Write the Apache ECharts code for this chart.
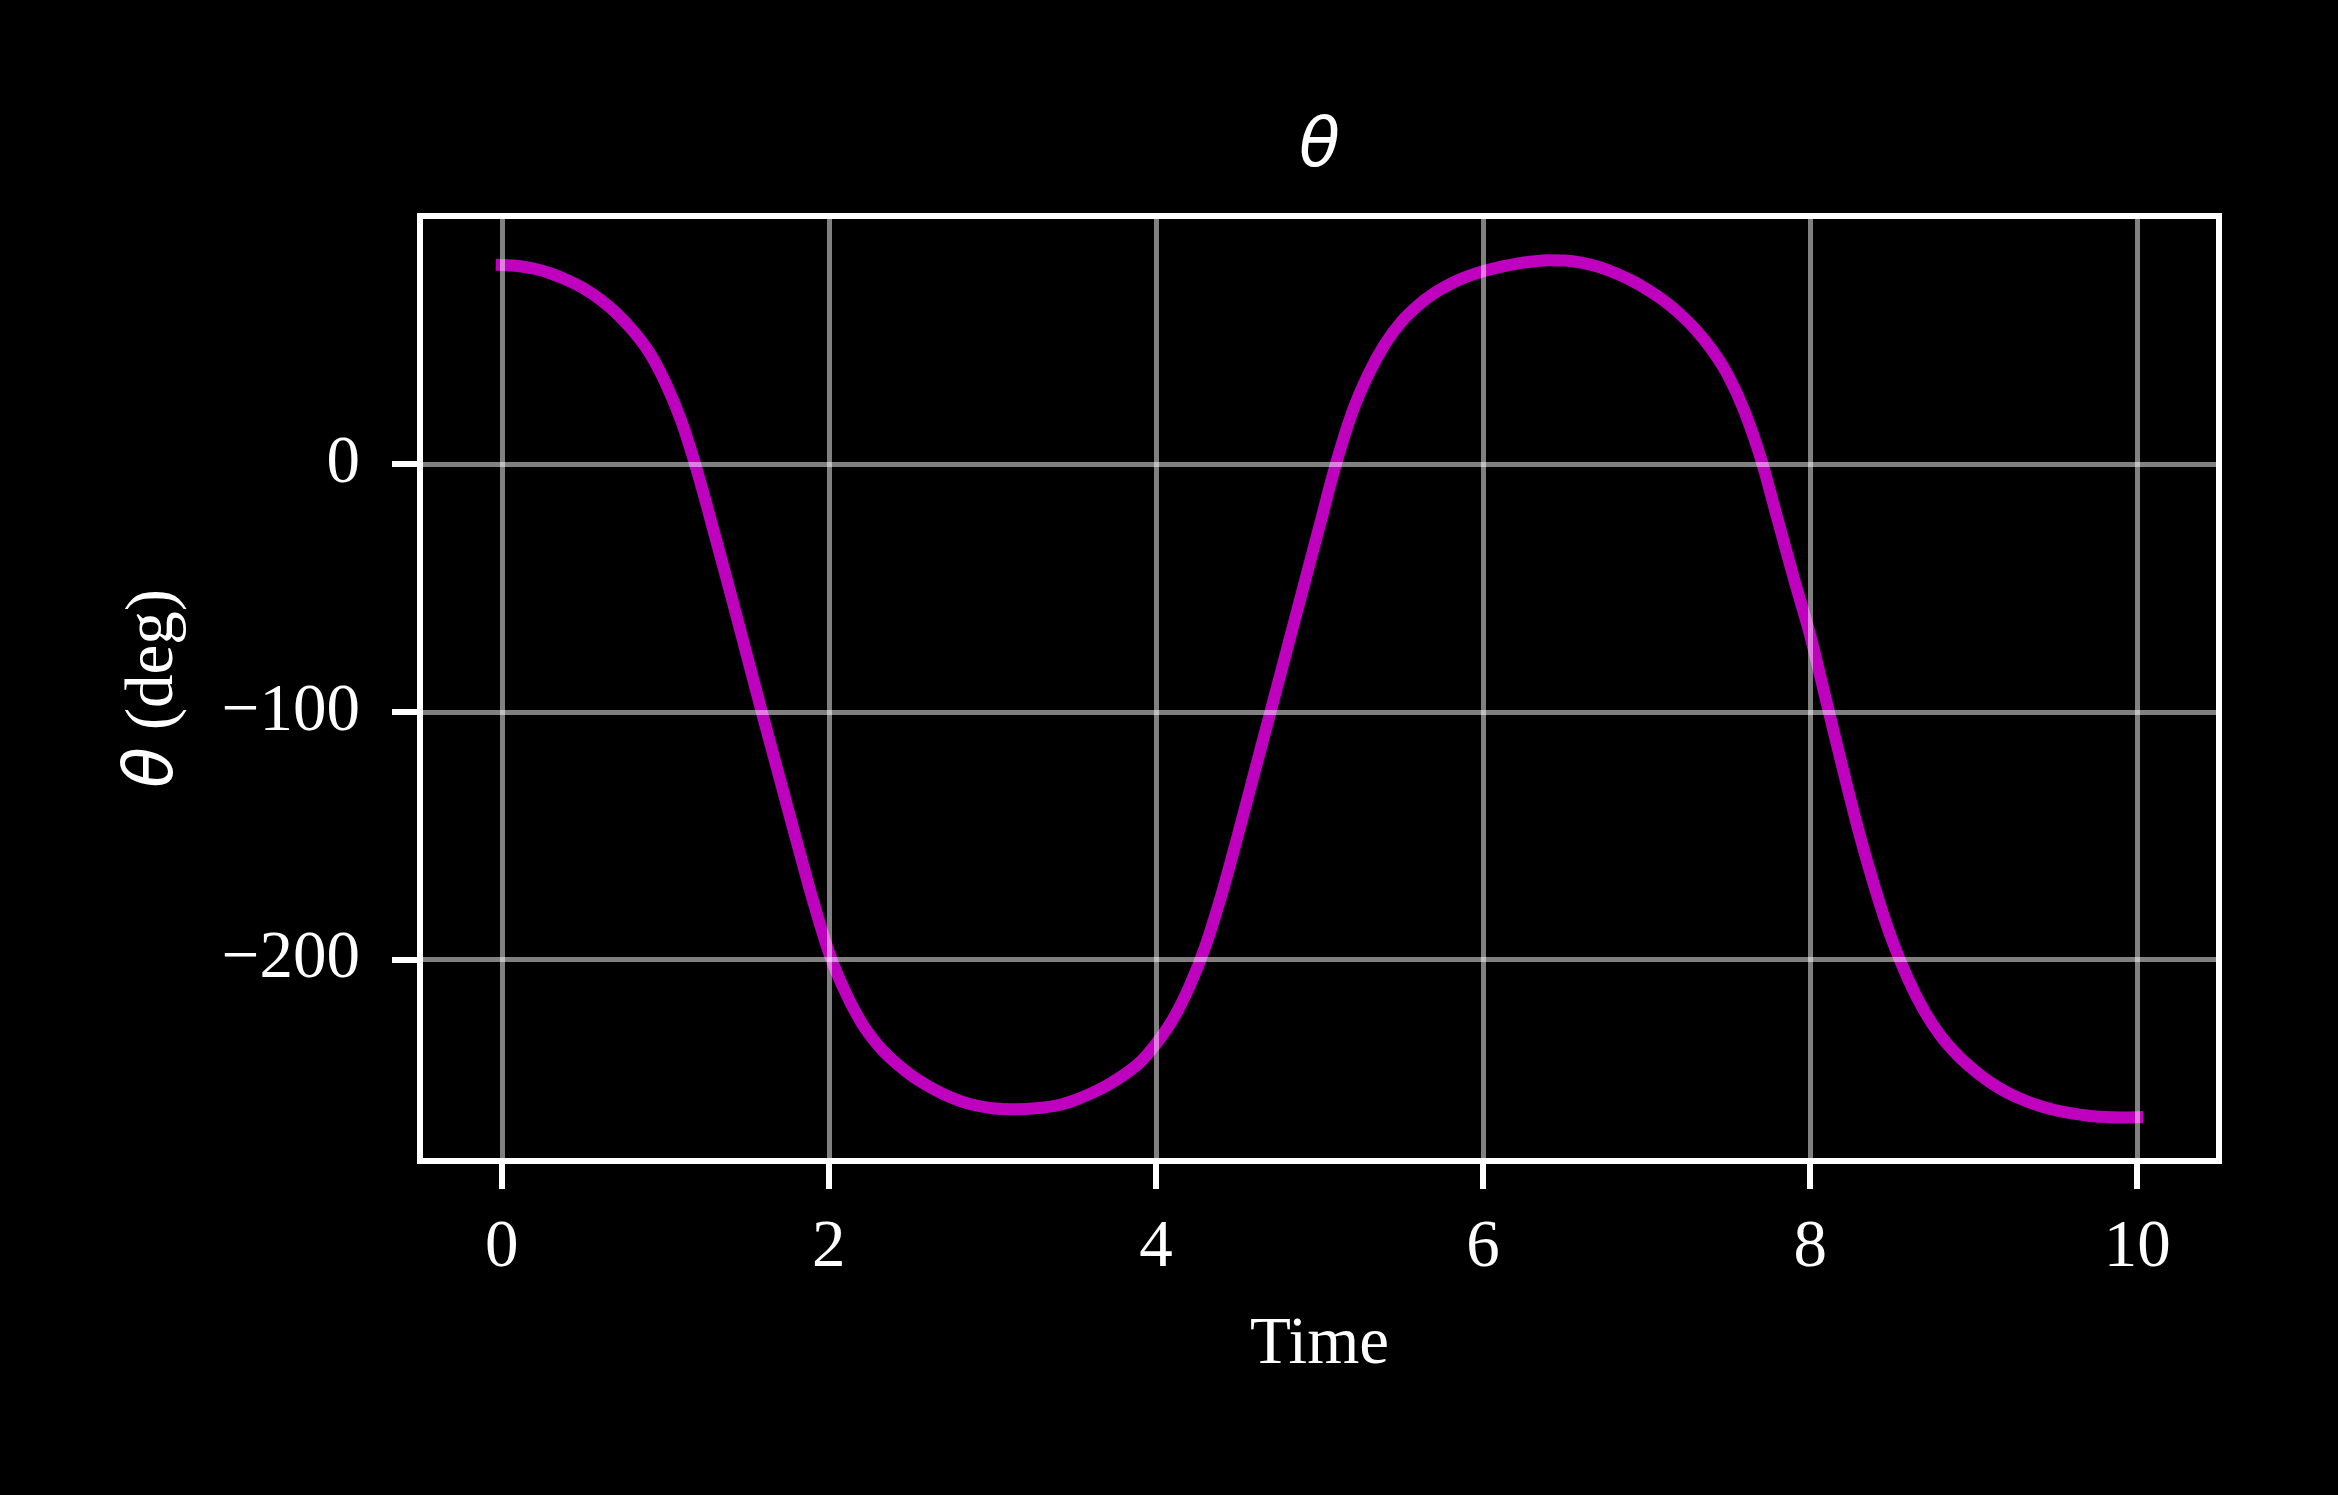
<!DOCTYPE html>
<html><head><meta charset="utf-8">
<script src="https://cdn.jsdelivr.net/npm/echarts@6/dist/echarts.min.js"></script>
<style>html,body{margin:0;padding:0;background:#000}#c{width:2338px;height:1495px}</style>
</head><body><div id="c"></div>
<script>
const timeValues = [0,0.1,0.2,0.3,0.4,0.5,0.6,0.7,0.8,0.9,1.0,1.1,1.2,1.3,1.4,1.5,1.6,1.7,1.8,1.9,2.0,2.1,2.2,2.3,2.4,2.5,2.6,2.7,2.8,2.9,3.0,3.1,3.2,3.3,3.4,3.5,3.6,3.7,3.8,3.9,4.0,4.1,4.2,4.3,4.4,4.5,4.6,4.7,4.8,4.9,5.0,5.1,5.2,5.3,5.4,5.5,5.6,5.7,5.8,5.9,6.0,6.1,6.2,6.3,6.4,6.5,6.6,6.7,6.8,6.9,7.0,7.1,7.2,7.3,7.4,7.5,7.6,7.7,7.8,7.9,8.0,8.1,8.2,8.3,8.4,8.5,8.6,8.7,8.8,8.9,9.0,9.1,9.2,9.3,9.4,9.5,9.6,9.7,9.8,9.9,10.0];
const thetaValues = [80.4,80.0,78.9,77.0,74.3,71.0,66.6,61.0,54.0,45.3,33,17,-4,-28,-52.5,-77.5,-102.5,-127,-151.5,-175.5,-197,-213,-225.5,-234.5,-241.2,-246.5,-250.8,-254.3,-257,-258.9,-260,-260.4,-260.3,-259.8,-258.8,-256.8,-254.1,-250.8,-246.7,-241.6,-234,-224.5,-211.5,-195,-174,-150,-125,-100,-75,-50,-25,0,21,36.5,48.5,57.5,64,69,72.8,75.7,77.9,79.6,80.9,81.8,82.3,82.2,81.4,79.8,77.4,74.4,70.7,66.3,60.9,54.3,46.1,35.6,21.1,2,-22,-46,-69,-96,-123,-149,-172,-192,-208,-221,-231,-238.5,-244.5,-249.5,-253.5,-256.6,-259,-260.8,-262.1,-263,-263.5,-263.7,-263.6];
const xTicks = [0,2,4,6,8,10];
const yTicks = [-200,-100,0];
const xMin = -0.5, xMax = 10.5;
const yMin = -281.3, yMax = 100.2;

const serif = 'Liberation Serif';
const fs = 67;
const fmt = v => String(v).replace('-', '\u2212');
const gridStyle = {color:'rgba(255,255,255,0.5)', width:5, type:'solid'};

const chart = echarts.init(document.getElementById('c'), null, {renderer:'canvas'});
chart.setOption({
  backgroundColor:'#000',
  animation:false,
  title:{
    text:'θ', left:1319.5, top:115, padding:0, textAlign:'center',
    textStyle:{color:'#fff', fontFamily:'DejaVu Sans', fontStyle:'italic', fontWeight:'normal', fontSize:fs}
  },
  grid:{left:420, right:119, top:216, bottom:334, show:true, borderColor:'#fff', borderWidth:6, backgroundColor:'transparent', containLabel:false},
  xAxis:{
    type:'value', min:xMin, max:xMax,
    name:'Time', nameLocation:'middle', nameGap:151,
    nameTextStyle:{color:'#fff', fontFamily:serif, fontSize:fs},
    axisLine:{show:false, onZero:false},
    axisTick:{show:true, customValues:xTicks, length:28, lineStyle:{color:'#fff', width:6}},
    axisLabel:{show:true, customValues:xTicks, formatter:fmt, color:'#fff', fontFamily:serif, fontSize:fs, margin:54},
    splitLine:{show:false}
  },
  yAxis:{
    type:'value', min:yMin, max:yMax,
    name:'{t|θ} {r|(deg)}', nameLocation:'middle', nameGap:232,
    nameTextStyle:{color:'#fff', fontFamily:serif, fontSize:fs,
      rich:{t:{fontFamily:'DejaVu Sans', fontStyle:'italic', fontSize:fs, color:'#fff'}, r:{fontFamily:serif, fontSize:fs, color:'#fff'}}},
    axisLine:{show:false, onZero:false},
    axisTick:{show:true, customValues:yTicks, length:28, lineStyle:{color:'#fff', width:6}},
    axisLabel:{show:true, customValues:yTicks, formatter:fmt, color:'#fff', fontFamily:serif, fontSize:fs, margin:60},
    splitLine:{show:false}
  },
  series:[
    {
      type:'line', data:[], z:1, silent:true,
      markLine:{
        silent:true, symbol:'none', label:{show:false}, lineStyle:gridStyle, animation:false,
        data: xTicks.map(v=>({xAxis:v})).concat(yTicks.map(v=>({yAxis:v})))
      }
    },
    {
      type:'line', z:3, showSymbol:false, smooth:0.3,
      data: timeValues.map((t,i)=>[t, thetaValues[i]]),
      lineStyle:{color:'#BF00BF', width:12, cap:'square'}
    }
  ]
});
</script>
</body></html>
